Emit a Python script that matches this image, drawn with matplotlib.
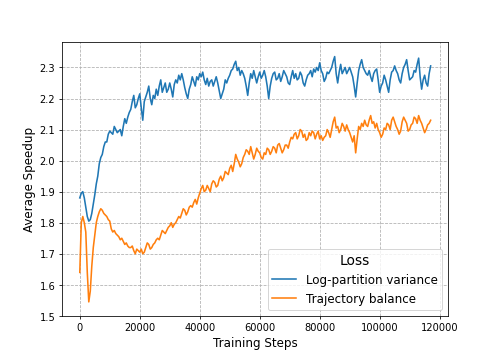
import numpy as np
import matplotlib
matplotlib.use("Agg")
import matplotlib.pyplot as plt

# training steps (one sample every 500 steps)
steps = list(range(0, 117500, 500))

# Log-partition variance
logpart = [
    1.88, 1.895, 1.90, 1.88, 1.85, 1.82, 1.805, 1.81, 1.83, 1.86, 1.89, 1.925, 1.95, 1.99, 2.01, 2.02, 2.045, 2.06, 2.06, 2.085,
    2.095, 2.09, 2.085, 2.11, 2.10, 2.09, 2.095, 2.10, 2.08, 2.11, 2.135, 2.12, 2.14, 2.155, 2.165, 2.19, 2.21, 2.17, 2.18, 2.20,
    2.215, 2.17, 2.13, 2.19, 2.205, 2.22, 2.24, 2.20, 2.18, 2.21, 2.20, 2.23, 2.21, 2.24, 2.26, 2.22, 2.235, 2.25, 2.22, 2.23,
    2.25, 2.23, 2.205, 2.245, 2.26, 2.25, 2.275, 2.26, 2.28, 2.26, 2.235, 2.215, 2.20, 2.23, 2.245, 2.27, 2.255, 2.24, 2.27, 2.26,
    2.28, 2.27, 2.285, 2.26, 2.245, 2.265, 2.24, 2.255, 2.26, 2.24, 2.255, 2.27, 2.25, 2.225, 2.20, 2.215, 2.23, 2.26, 2.25, 2.265,
    2.275, 2.29, 2.295, 2.31, 2.32, 2.29, 2.30, 2.275, 2.29, 2.28, 2.265, 2.24, 2.21, 2.25, 2.28, 2.265, 2.29, 2.27, 2.25, 2.27,
    2.285, 2.265, 2.275, 2.29, 2.27, 2.24, 2.20, 2.24, 2.265, 2.28, 2.285, 2.26, 2.265, 2.28, 2.255, 2.27, 2.29, 2.28, 2.27, 2.25,
    2.245, 2.27, 2.29, 2.265, 2.28, 2.26, 2.265, 2.285, 2.275, 2.25, 2.24, 2.26, 2.275, 2.28, 2.29, 2.27, 2.295, 2.285, 2.30, 2.29,
    2.315, 2.29, 2.28, 2.255, 2.265, 2.285, 2.28, 2.29, 2.30, 2.32, 2.335, 2.28, 2.25, 2.285, 2.31, 2.28, 2.29, 2.30, 2.28, 2.29,
    2.30, 2.285, 2.27, 2.24, 2.205, 2.25, 2.29, 2.31, 2.325, 2.30, 2.29, 2.28, 2.275, 2.29, 2.27, 2.255, 2.28, 2.29, 2.295, 2.26,
    2.22, 2.24, 2.25, 2.275, 2.26, 2.24, 2.22, 2.26, 2.285, 2.29, 2.305, 2.29, 2.28, 2.26, 2.25, 2.28, 2.30, 2.31, 2.325, 2.29,
    2.26, 2.265, 2.27, 2.29, 2.285, 2.31, 2.33, 2.27, 2.23, 2.26, 2.275, 2.25, 2.24, 2.28, 2.305,
]

# Trajectory balance
trajbal = [
    1.64, 1.80, 1.82, 1.80, 1.77, 1.64, 1.545, 1.58, 1.66, 1.72, 1.76, 1.80, 1.82, 1.835, 1.845, 1.84, 1.83, 1.825, 1.82, 1.81,
    1.805, 1.78, 1.77, 1.775, 1.765, 1.76, 1.755, 1.745, 1.75, 1.74, 1.73, 1.735, 1.725, 1.72, 1.72, 1.725, 1.71, 1.70, 1.715, 1.71,
    1.705, 1.715, 1.70, 1.705, 1.72, 1.735, 1.73, 1.715, 1.72, 1.73, 1.735, 1.745, 1.75, 1.745, 1.76, 1.775, 1.77, 1.765, 1.775, 1.785,
    1.79, 1.80, 1.785, 1.795, 1.80, 1.81, 1.82, 1.815, 1.83, 1.845, 1.84, 1.825, 1.835, 1.85, 1.855, 1.85, 1.865, 1.875, 1.86, 1.88,
    1.895, 1.91, 1.92, 1.90, 1.905, 1.92, 1.91, 1.90, 1.925, 1.935, 1.93, 1.915, 1.92, 1.94, 1.95, 1.935, 1.945, 1.965, 1.96, 1.955,
    1.975, 1.985, 1.965, 1.99, 2.02, 2.005, 1.995, 1.98, 1.99, 2.01, 2.02, 2.035, 2.03, 2.02, 2.045, 2.025, 2.005, 2.02, 2.04, 2.03,
    2.025, 2.01, 2.005, 2.025, 2.02, 2.04, 2.035, 2.02, 2.03, 2.045, 2.04, 2.025, 2.05, 2.055, 2.04, 2.025, 2.035, 2.05, 2.05, 2.04,
    2.06, 2.075, 2.07, 2.085, 2.09, 2.07, 2.08, 2.10, 2.095, 2.075, 2.085, 2.065, 2.07, 2.09, 2.08, 2.095, 2.09, 2.07, 2.085, 2.095,
    2.07, 2.08, 2.065, 2.075, 2.08, 2.10, 2.09, 2.075, 2.10, 2.125, 2.14, 2.105, 2.11, 2.09, 2.10, 2.12, 2.11, 2.095, 2.115, 2.10,
    2.09, 2.075, 2.06, 2.08, 2.025, 2.07, 2.11, 2.10, 2.12, 2.11, 2.13, 2.115, 2.11, 2.13, 2.145, 2.12, 2.125, 2.105, 2.12, 2.10,
    2.09, 2.075, 2.085, 2.105, 2.10, 2.12, 2.115, 2.10, 2.13, 2.14, 2.125, 2.11, 2.10, 2.085, 2.095, 2.125, 2.14, 2.13, 2.12, 2.095,
    2.10, 2.115, 2.12, 2.14, 2.135, 2.12, 2.145, 2.13, 2.12, 2.105, 2.09, 2.10, 2.115, 2.12, 2.13,
]

fig = plt.figure(figsize=(7, 5), dpi=71.14)
ax = fig.add_subplot(111)

ax.plot(steps, logpart, color="#1f77b4", lw=1.6, label="Log-partition variance")
ax.plot(steps, trajbal, color="#ff7f0e", lw=1.6, label="Trajectory balance")

ax.set_ylim(1.5, 2.382)
ax.set_xlabel("Training Steps", fontsize=12)
ax.set_ylabel("Average Speedup", fontsize=12)
ax.tick_params(labelsize=10)
# grille pointillee
ax.grid(True, linestyle="--")
ax.legend(title="Loss", loc="lower right", fontsize=12, title_fontsize=14)

fig.savefig("out.png", dpi=71.14)
